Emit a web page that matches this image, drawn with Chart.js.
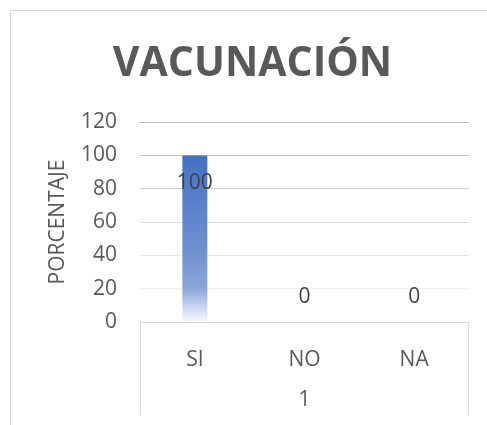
<!DOCTYPE html>
<html>
<head>
<meta charset="utf-8">
<script src="https://cdn.jsdelivr.net/npm/chart.js@4"></script>
<style>
  html, body { margin: 0; padding: 0; background: #fff; overflow: hidden; }
  #wrap { position: relative; width: 487px; height: 425px; overflow: hidden; }
  #frame { position: absolute; left: 10px; top: 10px; width: 520px; height: 460px; border: 1px solid #d9d9d9; box-sizing: border-box; }
  canvas { position: absolute; left: 0; top: 0; }
</style>
</head>
<body>
<div id="wrap">
  <div id="frame"></div>
  <canvas id="myChart" width="505" height="425"></canvas>
</div>
<script>
// data
const categories = ['SI', 'NO', 'NA'];
const groupLabel = '1';
const values = [100, 0, 0];
const yTicks = [0, 20, 40, 60, 80, 100, 120];

const FONT = 'Open Sans';
const GREY = '#595959';

// grid lines fade out toward the bottom
const gridColors = {120: '#bdbdbd', 100: '#c3c3c3', 80: '#cfcfcf', 60: '#dadada', 40: '#e5e5e5', 20: '#eeeeee', 0: '#d9d9d9'};

function barGradient(context) {
    const area = context.chart.chartArea;
    if (!area) return '#4472c4';
    const y = context.chart.scales.y;
    const g = context.chart.ctx.createLinearGradient(0, y.getPixelForValue(100), 0, y.getPixelForValue(0));
    g.addColorStop(0, '#4472c4');
    g.addColorStop(0.55, '#6d8fcf');
    g.addColorStop(0.8, '#8ba7db');
    g.addColorStop(0.9, '#c4d2ee');
    g.addColorStop(1, '#f7f9fd');
    return g;
}

// value labels: inside the top of a filled bar, above the axis for zeros
const valueLabels = {
    id: 'valueLabels',
    afterDatasetsDraw(chart) {
        const ctx = chart.ctx;
        const meta = chart.getDatasetMeta(0);
        ctx.save();
        ctx.font = '21px ' + FONT;
        ctx.fillStyle = '#404040';
        ctx.textAlign = 'center';
        ctx.textBaseline = 'middle';
        meta.data.forEach((bar, i) => {
            const v = values[i];
            const y = v > 0 ? bar.y + 28 : bar.y - 25;
            ctx.fillText(String(v), bar.x, y);
        });
        ctx.restore();
    }
};

// box lines of the category axis
const axisBox = {
    id: 'axisBox',
    afterDraw(chart) {
        const a = chart.chartArea;
        const ctx = chart.ctx;
        ctx.save();
        ctx.strokeStyle = '#d9d9d9';
        ctx.lineWidth = 1;
        ctx.beginPath();
        ctx.moveTo(a.left + 0.5, a.bottom);
        ctx.lineTo(a.left + 0.5, a.bottom + 93);
        ctx.moveTo(a.right - 0.5, a.bottom);
        ctx.lineTo(a.right - 0.5, a.bottom + 93);
        ctx.stroke();
        ctx.restore();
    }
};

const ctx = document.getElementById('myChart').getContext('2d');
const myChart = new Chart(ctx, {
    type: 'bar',
    data: {
        labels: categories,
        datasets: [{
            label: 'PORCENTAJE',
            data: values,
            backgroundColor: barGradient,
            borderWidth: 0,
            categoryPercentage: 1,
            barPercentage: 0.228
        }]
    },
    options: {
        responsive: false,
        animation: false,
        layout: {
            padding: { left: 36, right: 36, top: 0, bottom: 0 }
        },
        scales: {
            x: {
                grid: { display: false },
                border: { display: true, color: '#d9d9d9' },
                ticks: {
                    color: GREY,
                    font: { family: FONT, size: 21 },
                    padding: 17
                },
                title: {
                    display: true,
                    text: groupLabel,
                    color: GREY,
                    font: { family: FONT, size: 21 },
                    padding: { top: 22, bottom: 12 }
                },
                afterFit(scale) { scale.height = 103; }
            },
            y: {
                min: 0,
                max: 120,
                afterBuildTicks(scale) { scale.ticks = yTicks.map(v => ({ value: v })); },
                grid: {
                    drawTicks: false,
                    color: c => gridColors[c.tick.value] || '#d9d9d9'
                },
                border: { display: false },
                ticks: {
                    color: GREY,
                    font: { family: FONT, size: 21 },
                    padding: 23
                },
                title: {
                    display: true,
                    text: 'PORCENTAJE',
                    color: GREY,
                    font: { family: FONT, size: 21 },
                    padding: { top: 9, bottom: 0 }
                },
                afterFit(scale) { scale.width = 104; }
            }
        },
        plugins: {
            title: {
                display: true,
                text: 'VACUNACIÓN',
                color: GREY,
                font: { family: FONT, size: 41, weight: 'bold' },
                padding: { top: 40, bottom: 33 }
            },
            legend: { display: false },
            tooltip: { enabled: false }
        }
    },
    plugins: [valueLabels, axisBox]
});
</script>
</body>
</html>
